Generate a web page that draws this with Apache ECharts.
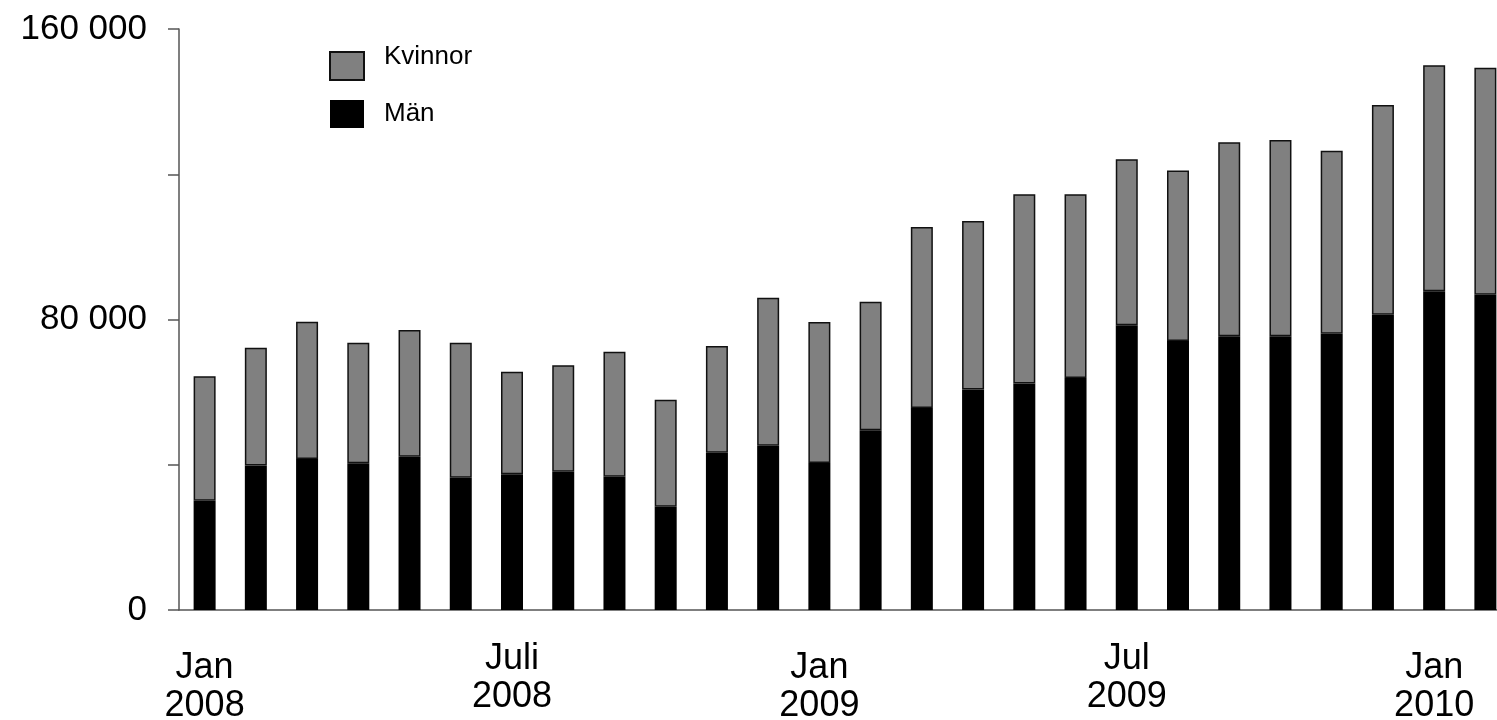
<!DOCTYPE html>
<html>
<head>
<meta charset="utf-8">
<script src="https://cdn.jsdelivr.net/npm/echarts@6/dist/echarts.min.js"></script>
<style>
html,body{margin:0;padding:0;background:#fff;}
#chart{width:1497px;height:720px;}
</style>
</head>
<body>
<div id="chart"></div>
<script>
// Months Jan 2008 .. Feb 2010
const categories = ['Jan\n2008','','','','','','Juli\n2008','','','','','','Jan\n2009','','','','','','Jul\n2009','','','','','','Jan\n2010',''];
const man = [30100,39800,41600,40400,42200,36400,37400,38100,36700,28400,43300,45200,40500,49500,55600,60700,62400,63900,78400,74100,75400,75400,76100,81300,87800,86800];
const kvinnor = [34300,32400,37800,33200,34900,37200,28200,29300,34400,29500,29400,40800,38800,35400,49900,46400,52100,50600,45700,46900,53400,54000,50400,57800,62200,62500];
const yTickLabels = {0:'0', 80000:'80 000', 160000:'160 000'};

const font = '"Liberation Sans", Arial, sans-serif';
const catData = categories.map(c => {
  if (c.startsWith('Jul')) return {value: c, textStyle: {padding: [0,0,0,0]}};
  return {value: c, textStyle: {padding: [9,0,0,0]}};
});

const chart = echarts.init(document.getElementById('chart'));
chart.setOption({
  animation: false,
  backgroundColor: '#ffffff',
  grid: {left: 179, top: 29, bottom: 110, width: 1332, outerBoundsMode: 'none', containLabel: false},
  legend: {
    orient: 'vertical',
    left: 324,
    top: 39,
    icon: 'rect',
    itemWidth: 34,
    itemHeight: 28,
    itemGap: 19,
    data: ['Kvinnor', 'Män'],
    formatter: name => (name === 'Kvinnor' ? '{k|' + name + '}' : '{m|' + name + '}'),
    textStyle: {
      fontFamily: font, fontSize: 26, color: '#000',
      rich: {
        k: {fontFamily: font, fontSize: 26, color: '#000', padding: [0,0,18,15]},
        m: {fontFamily: font, fontSize: 26, color: '#000', padding: [0,0,0,15]}
      }
    },
    selectedMode: false
  },
  xAxis: {
    type: 'category',
    data: catData,
    axisLine: {lineStyle: {color: '#555', width: 1.5}},
    axisTick: {show: false},
    axisLabel: {interval: 0, margin: 30, fontFamily: font, fontSize: 36, color: '#000', lineHeight: 38}
  },
  yAxis: {
    type: 'value',
    min: 0, max: 160000, interval: 40000,
    splitLine: {show: false},
    axisLine: {show: true, lineStyle: {color: '#555', width: 1.5}},
    axisTick: {show: true, length: 11, lineStyle: {color: '#555', width: 1.5}},
    axisLabel: {
      margin: 32,
      fontFamily: font, fontSize: 35, color: '#000',
      formatter: v => (yTickLabels[v] !== undefined ? yTickLabels[v] : '')
    }
  },
  series: [
    {
      name: 'Män', type: 'bar', stack: 'total', data: man,
      barWidth: 22,
      itemStyle: {color: '#000000'}
    },
    {
      name: 'Kvinnor', type: 'bar', stack: 'total', data: kvinnor,
      barWidth: 22,
      itemStyle: {color: '#808080', borderColor: '#111', borderWidth: 1.5}
    }
  ]
});
</script>
</body>
</html>
